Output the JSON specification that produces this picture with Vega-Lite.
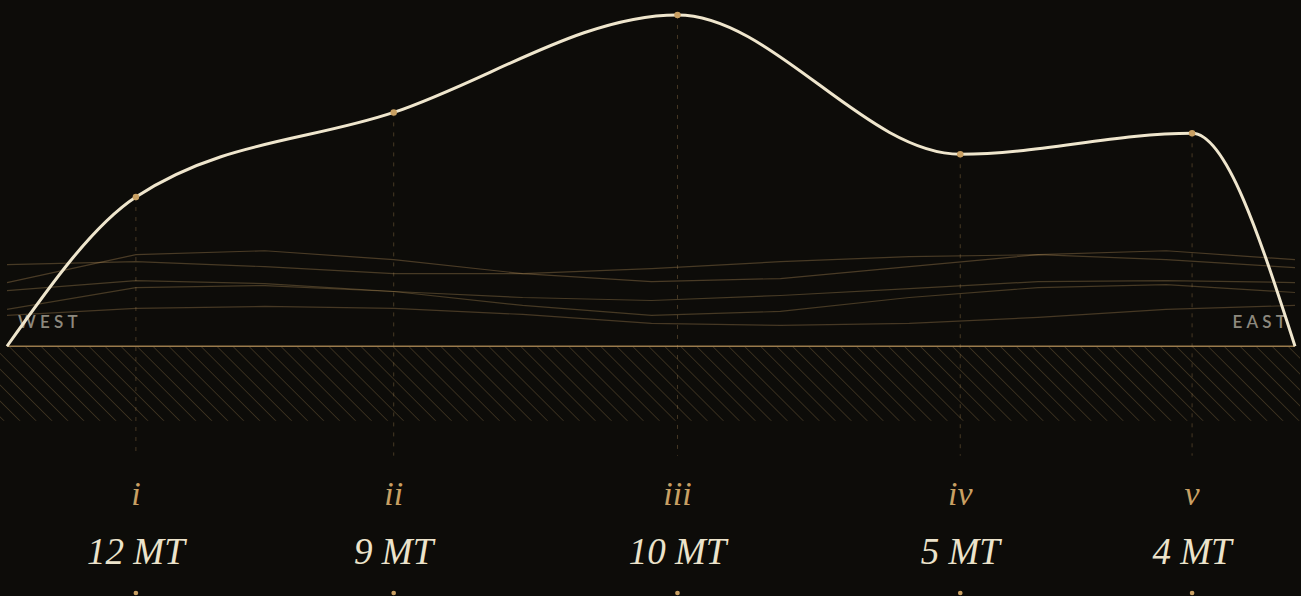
{
  "$schema": "https://vega.github.io/schema/vega-lite/v6.json",
  "width": 1301,
  "height": 596,
  "autosize": {"type": "fit", "contains": "padding"},
  "padding": 0,
  "background": "#0d0c09",
  "config": {"view": {"stroke": null}},
  "datasets": {
    "profile": [
      {"km": 7, "elev": 0, "roman": null, "tons": null},
      {"km": 136, "elev": 150, "roman": "i", "tons": "12 MT"},
      {"km": 394, "elev": 235, "roman": "ii", "tons": "9 MT"},
      {"km": 678, "elev": 333, "roman": "iii", "tons": "10 MT"},
      {"km": 961, "elev": 193, "roman": "iv", "tons": "5 MT"},
      {"km": 1193, "elev": 214, "roman": "v", "tons": "4 MT"},
      {"km": 1296, "elev": 0, "roman": null, "tons": null}
    ],
    "ridges": [
      {"series": "a", "km": 7, "elev": 64}, {"series": "a", "km": 136, "elev": 92}, {"series": "a", "km": 265, "elev": 96}, {"series": "a", "km": 394, "elev": 87}, {"series": "a", "km": 523, "elev": 73}, {"series": "a", "km": 652, "elev": 65}, {"series": "a", "km": 781, "elev": 68}, {"series": "a", "km": 910, "elev": 80}, {"series": "a", "km": 1039, "elev": 92}, {"series": "a", "km": 1167, "elev": 96}, {"series": "a", "km": 1296, "elev": 87},
      {"series": "b", "km": 7, "elev": 82}, {"series": "b", "km": 136, "elev": 85}, {"series": "b", "km": 265, "elev": 80}, {"series": "b", "km": 394, "elev": 73}, {"series": "b", "km": 523, "elev": 73}, {"series": "b", "km": 652, "elev": 78}, {"series": "b", "km": 781, "elev": 85}, {"series": "b", "km": 910, "elev": 90}, {"series": "b", "km": 1039, "elev": 92}, {"series": "b", "km": 1167, "elev": 87}, {"series": "b", "km": 1296, "elev": 79},
      {"series": "c", "km": 7, "elev": 56}, {"series": "c", "km": 136, "elev": 66}, {"series": "c", "km": 265, "elev": 63}, {"series": "c", "km": 394, "elev": 55}, {"series": "c", "km": 523, "elev": 49}, {"series": "c", "km": 652, "elev": 46}, {"series": "c", "km": 781, "elev": 51}, {"series": "c", "km": 910, "elev": 58}, {"series": "c", "km": 1039, "elev": 65}, {"series": "c", "km": 1167, "elev": 66}, {"series": "c", "km": 1296, "elev": 64},
      {"series": "d", "km": 7, "elev": 37}, {"series": "d", "km": 136, "elev": 59}, {"series": "d", "km": 265, "elev": 61}, {"series": "d", "km": 394, "elev": 55}, {"series": "d", "km": 523, "elev": 41}, {"series": "d", "km": 652, "elev": 31}, {"series": "d", "km": 781, "elev": 35}, {"series": "d", "km": 910, "elev": 49}, {"series": "d", "km": 1039, "elev": 59}, {"series": "d", "km": 1167, "elev": 62}, {"series": "d", "km": 1296, "elev": 54},
      {"series": "e", "km": 7, "elev": 31}, {"series": "e", "km": 136, "elev": 38}, {"series": "e", "km": 265, "elev": 40}, {"series": "e", "km": 394, "elev": 38}, {"series": "e", "km": 523, "elev": 32}, {"series": "e", "km": 652, "elev": 23}, {"series": "e", "km": 781, "elev": 21}, {"series": "e", "km": 910, "elev": 23}, {"series": "e", "km": 1039, "elev": 29}, {"series": "e", "km": 1167, "elev": 37}, {"series": "e", "km": 1296, "elev": 41}
    ]
  },
  "layer": [
    {
      "data": {"values": [{"zone": "ground"}]},
      "mark": {
        "type": "rect",
        "fill": {
          "gradient": "linear", "x1": 0, "y1": 1, "x2": 1.05414, "y2": 0.93923,
          "stops": [
            {"offset": 0.0020, "color": "#0d0c09"}, {"offset": 0.0029, "color": "#3a301f"}, {"offset": 0.0038, "color": "#0d0c09"},
            {"offset": 0.0136, "color": "#0d0c09"}, {"offset": 0.0145, "color": "#3a301f"}, {"offset": 0.0154, "color": "#0d0c09"},
            {"offset": 0.0253, "color": "#0d0c09"}, {"offset": 0.0262, "color": "#3a301f"}, {"offset": 0.0271, "color": "#0d0c09"},
            {"offset": 0.0369, "color": "#0d0c09"}, {"offset": 0.0378, "color": "#3a301f"}, {"offset": 0.0387, "color": "#0d0c09"},
            {"offset": 0.0485, "color": "#0d0c09"}, {"offset": 0.0494, "color": "#3a301f"}, {"offset": 0.0503, "color": "#0d0c09"},
            {"offset": 0.0601, "color": "#0d0c09"}, {"offset": 0.0610, "color": "#3a301f"}, {"offset": 0.0619, "color": "#0d0c09"},
            {"offset": 0.0718, "color": "#0d0c09"}, {"offset": 0.0727, "color": "#3a301f"}, {"offset": 0.0736, "color": "#0d0c09"},
            {"offset": 0.0834, "color": "#0d0c09"}, {"offset": 0.0843, "color": "#3a301f"}, {"offset": 0.0852, "color": "#0d0c09"},
            {"offset": 0.0950, "color": "#0d0c09"}, {"offset": 0.0959, "color": "#3a301f"}, {"offset": 0.0968, "color": "#0d0c09"},
            {"offset": 0.1067, "color": "#0d0c09"}, {"offset": 0.1076, "color": "#3a301f"}, {"offset": 0.1085, "color": "#0d0c09"},
            {"offset": 0.1183, "color": "#0d0c09"}, {"offset": 0.1192, "color": "#3a301f"}, {"offset": 0.1201, "color": "#0d0c09"},
            {"offset": 0.1299, "color": "#0d0c09"}, {"offset": 0.1308, "color": "#3a301f"}, {"offset": 0.1317, "color": "#0d0c09"},
            {"offset": 0.1415, "color": "#0d0c09"}, {"offset": 0.1424, "color": "#3a301f"}, {"offset": 0.1433, "color": "#0d0c09"},
            {"offset": 0.1532, "color": "#0d0c09"}, {"offset": 0.1541, "color": "#3a301f"}, {"offset": 0.1550, "color": "#0d0c09"},
            {"offset": 0.1648, "color": "#0d0c09"}, {"offset": 0.1657, "color": "#3a301f"}, {"offset": 0.1666, "color": "#0d0c09"},
            {"offset": 0.1764, "color": "#0d0c09"}, {"offset": 0.1773, "color": "#3a301f"}, {"offset": 0.1782, "color": "#0d0c09"},
            {"offset": 0.1881, "color": "#0d0c09"}, {"offset": 0.1890, "color": "#3a301f"}, {"offset": 0.1899, "color": "#0d0c09"},
            {"offset": 0.1997, "color": "#0d0c09"}, {"offset": 0.2006, "color": "#3a301f"}, {"offset": 0.2015, "color": "#0d0c09"},
            {"offset": 0.2113, "color": "#0d0c09"}, {"offset": 0.2122, "color": "#3a301f"}, {"offset": 0.2131, "color": "#0d0c09"},
            {"offset": 0.2229, "color": "#0d0c09"}, {"offset": 0.2238, "color": "#3a301f"}, {"offset": 0.2247, "color": "#0d0c09"},
            {"offset": 0.2346, "color": "#0d0c09"}, {"offset": 0.2355, "color": "#3a301f"}, {"offset": 0.2364, "color": "#0d0c09"},
            {"offset": 0.2462, "color": "#0d0c09"}, {"offset": 0.2471, "color": "#3a301f"}, {"offset": 0.2480, "color": "#0d0c09"},
            {"offset": 0.2578, "color": "#0d0c09"}, {"offset": 0.2587, "color": "#3a301f"}, {"offset": 0.2596, "color": "#0d0c09"},
            {"offset": 0.2694, "color": "#0d0c09"}, {"offset": 0.2703, "color": "#3a301f"}, {"offset": 0.2712, "color": "#0d0c09"},
            {"offset": 0.2811, "color": "#0d0c09"}, {"offset": 0.2820, "color": "#3a301f"}, {"offset": 0.2829, "color": "#0d0c09"},
            {"offset": 0.2927, "color": "#0d0c09"}, {"offset": 0.2936, "color": "#3a301f"}, {"offset": 0.2945, "color": "#0d0c09"},
            {"offset": 0.3043, "color": "#0d0c09"}, {"offset": 0.3052, "color": "#3a301f"}, {"offset": 0.3061, "color": "#0d0c09"},
            {"offset": 0.3160, "color": "#0d0c09"}, {"offset": 0.3169, "color": "#3a301f"}, {"offset": 0.3178, "color": "#0d0c09"},
            {"offset": 0.3276, "color": "#0d0c09"}, {"offset": 0.3285, "color": "#3a301f"}, {"offset": 0.3294, "color": "#0d0c09"},
            {"offset": 0.3392, "color": "#0d0c09"}, {"offset": 0.3401, "color": "#3a301f"}, {"offset": 0.3410, "color": "#0d0c09"},
            {"offset": 0.3508, "color": "#0d0c09"}, {"offset": 0.3517, "color": "#3a301f"}, {"offset": 0.3526, "color": "#0d0c09"},
            {"offset": 0.3625, "color": "#0d0c09"}, {"offset": 0.3634, "color": "#3a301f"}, {"offset": 0.3643, "color": "#0d0c09"},
            {"offset": 0.3741, "color": "#0d0c09"}, {"offset": 0.3750, "color": "#3a301f"}, {"offset": 0.3759, "color": "#0d0c09"},
            {"offset": 0.3857, "color": "#0d0c09"}, {"offset": 0.3866, "color": "#3a301f"}, {"offset": 0.3875, "color": "#0d0c09"},
            {"offset": 0.3974, "color": "#0d0c09"}, {"offset": 0.3983, "color": "#3a301f"}, {"offset": 0.3992, "color": "#0d0c09"},
            {"offset": 0.4090, "color": "#0d0c09"}, {"offset": 0.4099, "color": "#3a301f"}, {"offset": 0.4108, "color": "#0d0c09"},
            {"offset": 0.4206, "color": "#0d0c09"}, {"offset": 0.4215, "color": "#3a301f"}, {"offset": 0.4224, "color": "#0d0c09"},
            {"offset": 0.4322, "color": "#0d0c09"}, {"offset": 0.4331, "color": "#3a301f"}, {"offset": 0.4340, "color": "#0d0c09"},
            {"offset": 0.4439, "color": "#0d0c09"}, {"offset": 0.4448, "color": "#3a301f"}, {"offset": 0.4457, "color": "#0d0c09"},
            {"offset": 0.4555, "color": "#0d0c09"}, {"offset": 0.4564, "color": "#3a301f"}, {"offset": 0.4573, "color": "#0d0c09"},
            {"offset": 0.4671, "color": "#0d0c09"}, {"offset": 0.4680, "color": "#3a301f"}, {"offset": 0.4689, "color": "#0d0c09"},
            {"offset": 0.4788, "color": "#0d0c09"}, {"offset": 0.4797, "color": "#3a301f"}, {"offset": 0.4806, "color": "#0d0c09"},
            {"offset": 0.4904, "color": "#0d0c09"}, {"offset": 0.4913, "color": "#3a301f"}, {"offset": 0.4922, "color": "#0d0c09"},
            {"offset": 0.5020, "color": "#0d0c09"}, {"offset": 0.5029, "color": "#3a301f"}, {"offset": 0.5038, "color": "#0d0c09"},
            {"offset": 0.5136, "color": "#0d0c09"}, {"offset": 0.5145, "color": "#3a301f"}, {"offset": 0.5154, "color": "#0d0c09"},
            {"offset": 0.5253, "color": "#0d0c09"}, {"offset": 0.5262, "color": "#3a301f"}, {"offset": 0.5271, "color": "#0d0c09"},
            {"offset": 0.5369, "color": "#0d0c09"}, {"offset": 0.5378, "color": "#3a301f"}, {"offset": 0.5387, "color": "#0d0c09"},
            {"offset": 0.5485, "color": "#0d0c09"}, {"offset": 0.5494, "color": "#3a301f"}, {"offset": 0.5503, "color": "#0d0c09"},
            {"offset": 0.5601, "color": "#0d0c09"}, {"offset": 0.5610, "color": "#3a301f"}, {"offset": 0.5619, "color": "#0d0c09"},
            {"offset": 0.5718, "color": "#0d0c09"}, {"offset": 0.5727, "color": "#3a301f"}, {"offset": 0.5736, "color": "#0d0c09"},
            {"offset": 0.5834, "color": "#0d0c09"}, {"offset": 0.5843, "color": "#3a301f"}, {"offset": 0.5852, "color": "#0d0c09"},
            {"offset": 0.5950, "color": "#0d0c09"}, {"offset": 0.5959, "color": "#3a301f"}, {"offset": 0.5968, "color": "#0d0c09"},
            {"offset": 0.6067, "color": "#0d0c09"}, {"offset": 0.6076, "color": "#3a301f"}, {"offset": 0.6085, "color": "#0d0c09"},
            {"offset": 0.6183, "color": "#0d0c09"}, {"offset": 0.6192, "color": "#3a301f"}, {"offset": 0.6201, "color": "#0d0c09"},
            {"offset": 0.6299, "color": "#0d0c09"}, {"offset": 0.6308, "color": "#3a301f"}, {"offset": 0.6317, "color": "#0d0c09"},
            {"offset": 0.6415, "color": "#0d0c09"}, {"offset": 0.6424, "color": "#3a301f"}, {"offset": 0.6433, "color": "#0d0c09"},
            {"offset": 0.6532, "color": "#0d0c09"}, {"offset": 0.6541, "color": "#3a301f"}, {"offset": 0.6550, "color": "#0d0c09"},
            {"offset": 0.6648, "color": "#0d0c09"}, {"offset": 0.6657, "color": "#3a301f"}, {"offset": 0.6666, "color": "#0d0c09"},
            {"offset": 0.6764, "color": "#0d0c09"}, {"offset": 0.6773, "color": "#3a301f"}, {"offset": 0.6782, "color": "#0d0c09"},
            {"offset": 0.6881, "color": "#0d0c09"}, {"offset": 0.6890, "color": "#3a301f"}, {"offset": 0.6899, "color": "#0d0c09"},
            {"offset": 0.6997, "color": "#0d0c09"}, {"offset": 0.7006, "color": "#3a301f"}, {"offset": 0.7015, "color": "#0d0c09"},
            {"offset": 0.7113, "color": "#0d0c09"}, {"offset": 0.7122, "color": "#3a301f"}, {"offset": 0.7131, "color": "#0d0c09"},
            {"offset": 0.7229, "color": "#0d0c09"}, {"offset": 0.7238, "color": "#3a301f"}, {"offset": 0.7247, "color": "#0d0c09"},
            {"offset": 0.7346, "color": "#0d0c09"}, {"offset": 0.7355, "color": "#3a301f"}, {"offset": 0.7364, "color": "#0d0c09"},
            {"offset": 0.7462, "color": "#0d0c09"}, {"offset": 0.7471, "color": "#3a301f"}, {"offset": 0.7480, "color": "#0d0c09"},
            {"offset": 0.7578, "color": "#0d0c09"}, {"offset": 0.7587, "color": "#3a301f"}, {"offset": 0.7596, "color": "#0d0c09"},
            {"offset": 0.7694, "color": "#0d0c09"}, {"offset": 0.7703, "color": "#3a301f"}, {"offset": 0.7712, "color": "#0d0c09"},
            {"offset": 0.7811, "color": "#0d0c09"}, {"offset": 0.7820, "color": "#3a301f"}, {"offset": 0.7829, "color": "#0d0c09"},
            {"offset": 0.7927, "color": "#0d0c09"}, {"offset": 0.7936, "color": "#3a301f"}, {"offset": 0.7945, "color": "#0d0c09"},
            {"offset": 0.8043, "color": "#0d0c09"}, {"offset": 0.8052, "color": "#3a301f"}, {"offset": 0.8061, "color": "#0d0c09"},
            {"offset": 0.8160, "color": "#0d0c09"}, {"offset": 0.8169, "color": "#3a301f"}, {"offset": 0.8178, "color": "#0d0c09"},
            {"offset": 0.8276, "color": "#0d0c09"}, {"offset": 0.8285, "color": "#3a301f"}, {"offset": 0.8294, "color": "#0d0c09"},
            {"offset": 0.8392, "color": "#0d0c09"}, {"offset": 0.8401, "color": "#3a301f"}, {"offset": 0.8410, "color": "#0d0c09"},
            {"offset": 0.8508, "color": "#0d0c09"}, {"offset": 0.8517, "color": "#3a301f"}, {"offset": 0.8526, "color": "#0d0c09"},
            {"offset": 0.8625, "color": "#0d0c09"}, {"offset": 0.8634, "color": "#3a301f"}, {"offset": 0.8643, "color": "#0d0c09"},
            {"offset": 0.8741, "color": "#0d0c09"}, {"offset": 0.8750, "color": "#3a301f"}, {"offset": 0.8759, "color": "#0d0c09"},
            {"offset": 0.8857, "color": "#0d0c09"}, {"offset": 0.8866, "color": "#3a301f"}, {"offset": 0.8875, "color": "#0d0c09"},
            {"offset": 0.8974, "color": "#0d0c09"}, {"offset": 0.8983, "color": "#3a301f"}, {"offset": 0.8992, "color": "#0d0c09"},
            {"offset": 0.9090, "color": "#0d0c09"}, {"offset": 0.9099, "color": "#3a301f"}, {"offset": 0.9108, "color": "#0d0c09"},
            {"offset": 0.9206, "color": "#0d0c09"}, {"offset": 0.9215, "color": "#3a301f"}, {"offset": 0.9224, "color": "#0d0c09"},
            {"offset": 0.9322, "color": "#0d0c09"}, {"offset": 0.9331, "color": "#3a301f"}, {"offset": 0.9340, "color": "#0d0c09"},
            {"offset": 0.9439, "color": "#0d0c09"}, {"offset": 0.9448, "color": "#3a301f"}, {"offset": 0.9457, "color": "#0d0c09"},
            {"offset": 0.9555, "color": "#0d0c09"}, {"offset": 0.9564, "color": "#3a301f"}, {"offset": 0.9573, "color": "#0d0c09"},
            {"offset": 0.9671, "color": "#0d0c09"}, {"offset": 0.9680, "color": "#3a301f"}, {"offset": 0.9689, "color": "#0d0c09"},
            {"offset": 0.9788, "color": "#0d0c09"}, {"offset": 0.9797, "color": "#3a301f"}, {"offset": 0.9806, "color": "#0d0c09"},
            {"offset": 0.9904, "color": "#0d0c09"}, {"offset": 0.9913, "color": "#3a301f"}, {"offset": 0.9922, "color": "#0d0c09"}
          ]
        }
      },
      "encoding": {
        "x": {"datum": 0, "type": "quantitative", "scale": {"domain": [0, 1301], "nice": false, "zero": false}, "axis": null},
        "x2": {"datum": 1301},
        "y": {"datum": 0, "type": "quantitative", "scale": {"domain": [-248, 348], "nice": false, "zero": false}, "axis": null},
        "y2": {"datum": -75}
      }
    },
    {
      "data": {"name": "ridges"},
      "mark": {"type": "line", "interpolate": "linear", "stroke": "#c9a063", "strokeWidth": 1.2},
      "encoding": {
        "x": {"field": "km", "type": "quantitative", "scale": {"domain": [0, 1301], "nice": false, "zero": false}, "axis": null},
        "y": {"field": "elev", "type": "quantitative", "scale": {"domain": [-248, 348], "nice": false, "zero": false}, "axis": null},
        "detail": {"field": "series", "type": "nominal"},
        "strokeOpacity": {"field": "series", "type": "nominal", "scale": {"domain": ["a", "b", "c", "d", "e"], "range": [0.32, 0.3, 0.34, 0.48, 0.3]}, "legend": null}
      }
    },
    {
      "data": {"values": [{"line": "ground"}]},
      "mark": {"type": "rule", "stroke": "#9a7b4c", "strokeWidth": 1.5},
      "encoding": {
        "x": {"datum": 7, "type": "quantitative", "scale": {"domain": [0, 1301], "nice": false, "zero": false}, "axis": null},
        "x2": {"datum": 1296},
        "y": {"datum": 0, "type": "quantitative", "scale": {"domain": [-248, 348], "nice": false, "zero": false}, "axis": null}
      }
    },
    {
      "data": {"name": "profile"},
      "transform": [{"filter": "datum.roman != null"}],
      "mark": {"type": "rule", "stroke": "#c9a063", "strokeOpacity": 0.3, "strokeWidth": 1, "strokeDash": [4, 6]},
      "encoding": {
        "x": {"field": "km", "type": "quantitative", "scale": {"domain": [0, 1301], "nice": false, "zero": false}, "axis": null},
        "y": {"field": "elev", "type": "quantitative", "scale": {"domain": [-248, 348], "nice": false, "zero": false}, "axis": null},
        "y2": {"datum": -110}
      }
    },
    {
      "data": {"values": [{"side": "W\u2005E\u2005S\u2005T", "km": 18}]},
      "mark": {"type": "text", "font": "Lato", "fontSize": 17, "fontWeight": 600, "fill": "#8d897e", "align": "left", "baseline": "middle"},
      "encoding": {
        "x": {"field": "km", "type": "quantitative", "scale": {"domain": [0, 1301], "nice": false, "zero": false}, "axis": null},
        "y": {"datum": 23, "type": "quantitative", "scale": {"domain": [-248, 348], "nice": false, "zero": false}, "axis": null},
        "text": {"field": "side"}
      }
    },
    {
      "data": {"values": [{"side": "E\u2005A\u2005S\u2005T", "km": 1287}]},
      "mark": {"type": "text", "font": "Lato", "fontSize": 17, "fontWeight": 600, "fill": "#8d897e", "align": "right", "baseline": "middle"},
      "encoding": {
        "x": {"field": "km", "type": "quantitative", "scale": {"domain": [0, 1301], "nice": false, "zero": false}, "axis": null},
        "y": {"datum": 23, "type": "quantitative", "scale": {"domain": [-248, 348], "nice": false, "zero": false}, "axis": null},
        "text": {"field": "side"}
      }
    },
    {
      "data": {"name": "profile"},
      "mark": {"type": "line", "interpolate": "monotone", "stroke": "#efe6cd", "strokeWidth": 3},
      "encoding": {
        "x": {"field": "km", "type": "quantitative", "scale": {"domain": [0, 1301], "nice": false, "zero": false}, "axis": null},
        "y": {"field": "elev", "type": "quantitative", "scale": {"domain": [-248, 348], "nice": false, "zero": false}, "axis": null}
      }
    },
    {
      "data": {"name": "profile"},
      "transform": [{"filter": "datum.roman != null"}],
      "mark": {"type": "circle", "size": 42, "fill": "#c9a063", "opacity": 1},
      "encoding": {
        "x": {"field": "km", "type": "quantitative", "scale": {"domain": [0, 1301], "nice": false, "zero": false}, "axis": null},
        "y": {"field": "elev", "type": "quantitative", "scale": {"domain": [-248, 348], "nice": false, "zero": false}, "axis": null}
      }
    },
    {
      "data": {"name": "profile"},
      "transform": [{"filter": "datum.roman != null"}],
      "mark": {"type": "text", "font": "Liberation Serif", "fontStyle": "italic", "fontSize": 34, "fill": "#c9a063", "align": "center", "baseline": "alphabetic"},
      "encoding": {
        "x": {"field": "km", "type": "quantitative", "scale": {"domain": [0, 1301], "nice": false, "zero": false}, "axis": null},
        "y": {"datum": -160, "type": "quantitative", "scale": {"domain": [-248, 348], "nice": false, "zero": false}, "axis": null},
        "text": {"field": "roman"}
      }
    },
    {
      "data": {"name": "profile"},
      "transform": [{"filter": "datum.roman != null"}],
      "mark": {"type": "text", "font": "Liberation Serif", "fontStyle": "italic", "fontSize": 37, "fill": "#ece3cb", "align": "center", "baseline": "alphabetic"},
      "encoding": {
        "x": {"field": "km", "type": "quantitative", "scale": {"domain": [0, 1301], "nice": false, "zero": false}, "axis": null},
        "y": {"datum": -219, "type": "quantitative", "scale": {"domain": [-248, 348], "nice": false, "zero": false}, "axis": null},
        "text": {"field": "tons"}
      }
    },
    {
      "data": {"name": "profile"},
      "transform": [{"filter": "datum.roman != null"}],
      "mark": {"type": "circle", "size": 22, "fill": "#c9a063", "opacity": 1},
      "encoding": {
        "x": {"field": "km", "type": "quantitative", "scale": {"domain": [0, 1301], "nice": false, "zero": false}, "axis": null},
        "y": {"datum": -248, "type": "quantitative", "scale": {"domain": [-248, 348], "nice": false, "zero": false}, "axis": null}
      }
    }
  ]
}
